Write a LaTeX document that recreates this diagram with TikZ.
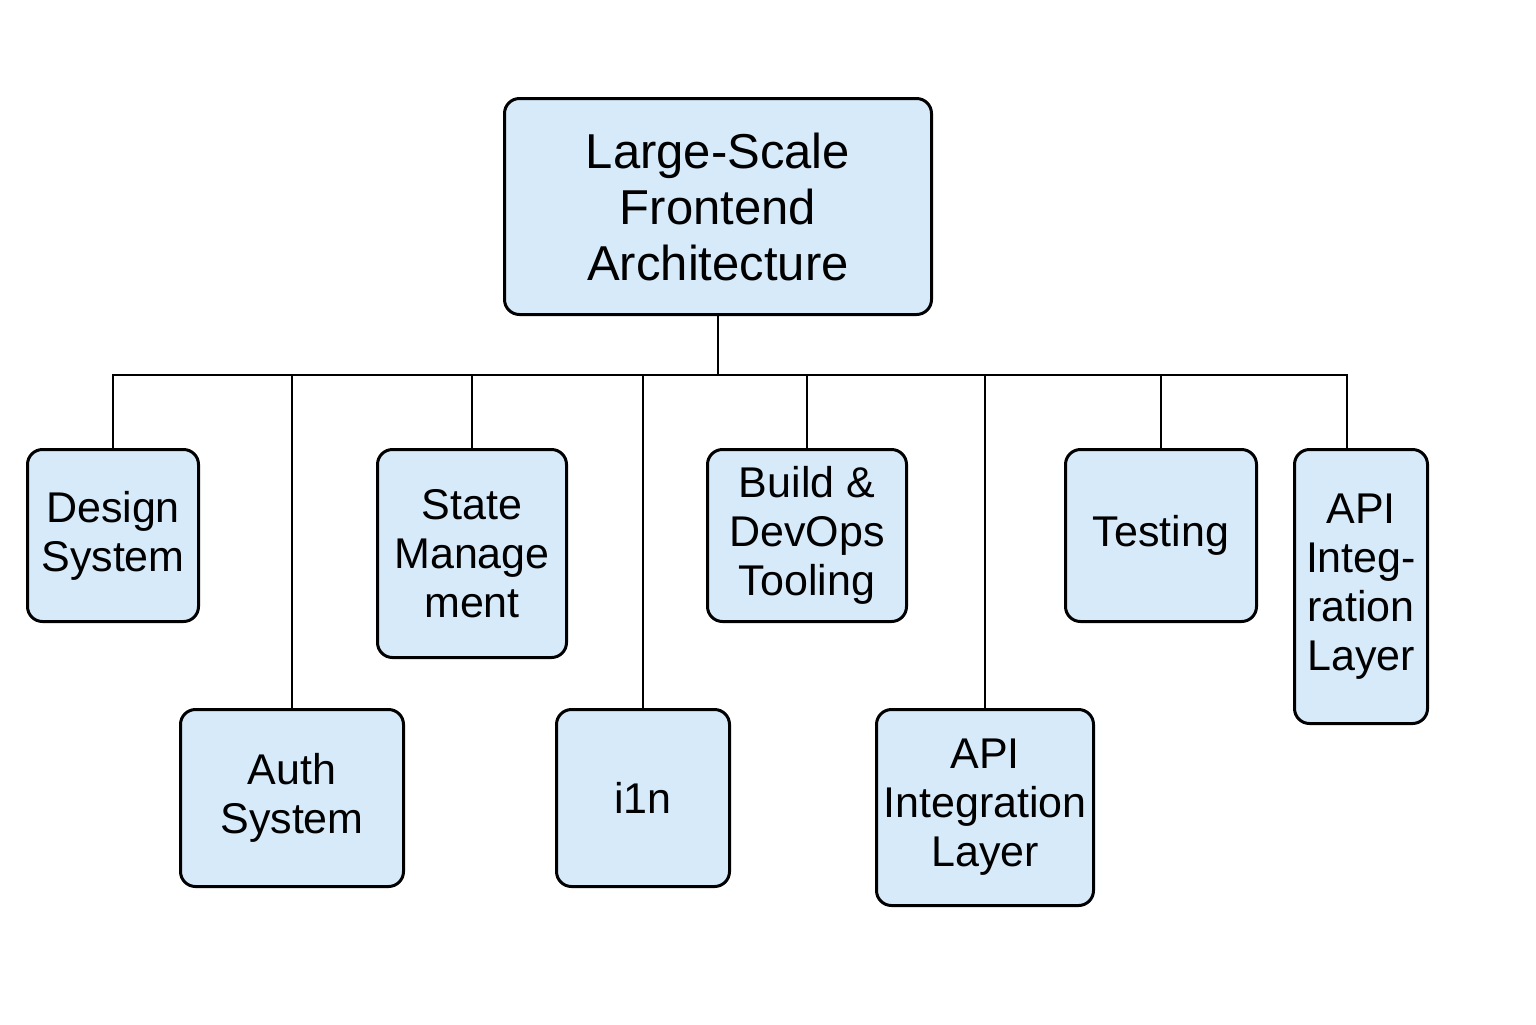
\documentclass[tikz,border=0pt]{standalone}
\usepackage{fontspec}
\setmainfont{Liberation Sans}
\definecolor{boxfill}{HTML}{D6EAFA}
\tikzstyle{block}=[draw, fill=boxfill, rounded corners=7.5pt, line width=1.5pt,
    align=center, inner sep=0pt, font=\fontsize{21.5}{24.5}\selectfont]
\newcommand{\block}{\node[block]}
\begin{document}
\begin{tikzpicture}[x=0.5pt, y=-0.5pt
    ,every edge/.style={draw, line width=1.3pt}
]
\useasboundingbox (0,0) rectangle (1536,1024);
\block[minimum width=213.5pt, minimum height=108pt,
    font=\fontsize{24.5}{28}\selectfont] (root) at (718,206.5)
    {Large-Scale\\Frontend\\Architecture};
\block[minimum width=85.5pt, minimum height=86pt] (design) at (113,535.5) {Design\\System};
\block[minimum width=111.5pt, minimum height=88.5pt] (auth) at (292,798) {Auth\\System};
\block[minimum width=94.5pt, minimum height=104pt] (state) at (472,553.5) {State\\Manage\\ment};
\block[minimum width=86.5pt, minimum height=88.5pt] (i1n) at (643,798) {i1n};
\block[minimum width=99.5pt, minimum height=86pt] (build) at (807,535.5) {Build \&\\DevOps\\Tooling};
\block[minimum width=108.5pt, minimum height=98pt] (apil) at (985,807.5) {API\\Integration\\Layer};
\block[minimum width=95.5pt, minimum height=86pt] (testing) at (1161,535.5) {Testing};
\block[minimum width=66.5pt, minimum height=137pt] (apir) at (1361,586.5) {API\\Integ-\\ration\\Layer};
\coordinate (bus) at (718,375);
\coordinate (apirtop) at (1347,448);
% tree bus
\draw[line width=1.3pt] (design.north) |- (bus) -| (apirtop);
\path
(root.south) edge (bus)
(auth.north) edge (auth.north |- bus)
(state.north) edge (state.north |- bus)
(i1n.north) edge (i1n.north |- bus)
(build.north) edge (build.north |- bus)
(apil.north) edge (apil.north |- bus)
(testing.north) edge (testing.north |- bus)
;
\end{tikzpicture}
\end{document}
